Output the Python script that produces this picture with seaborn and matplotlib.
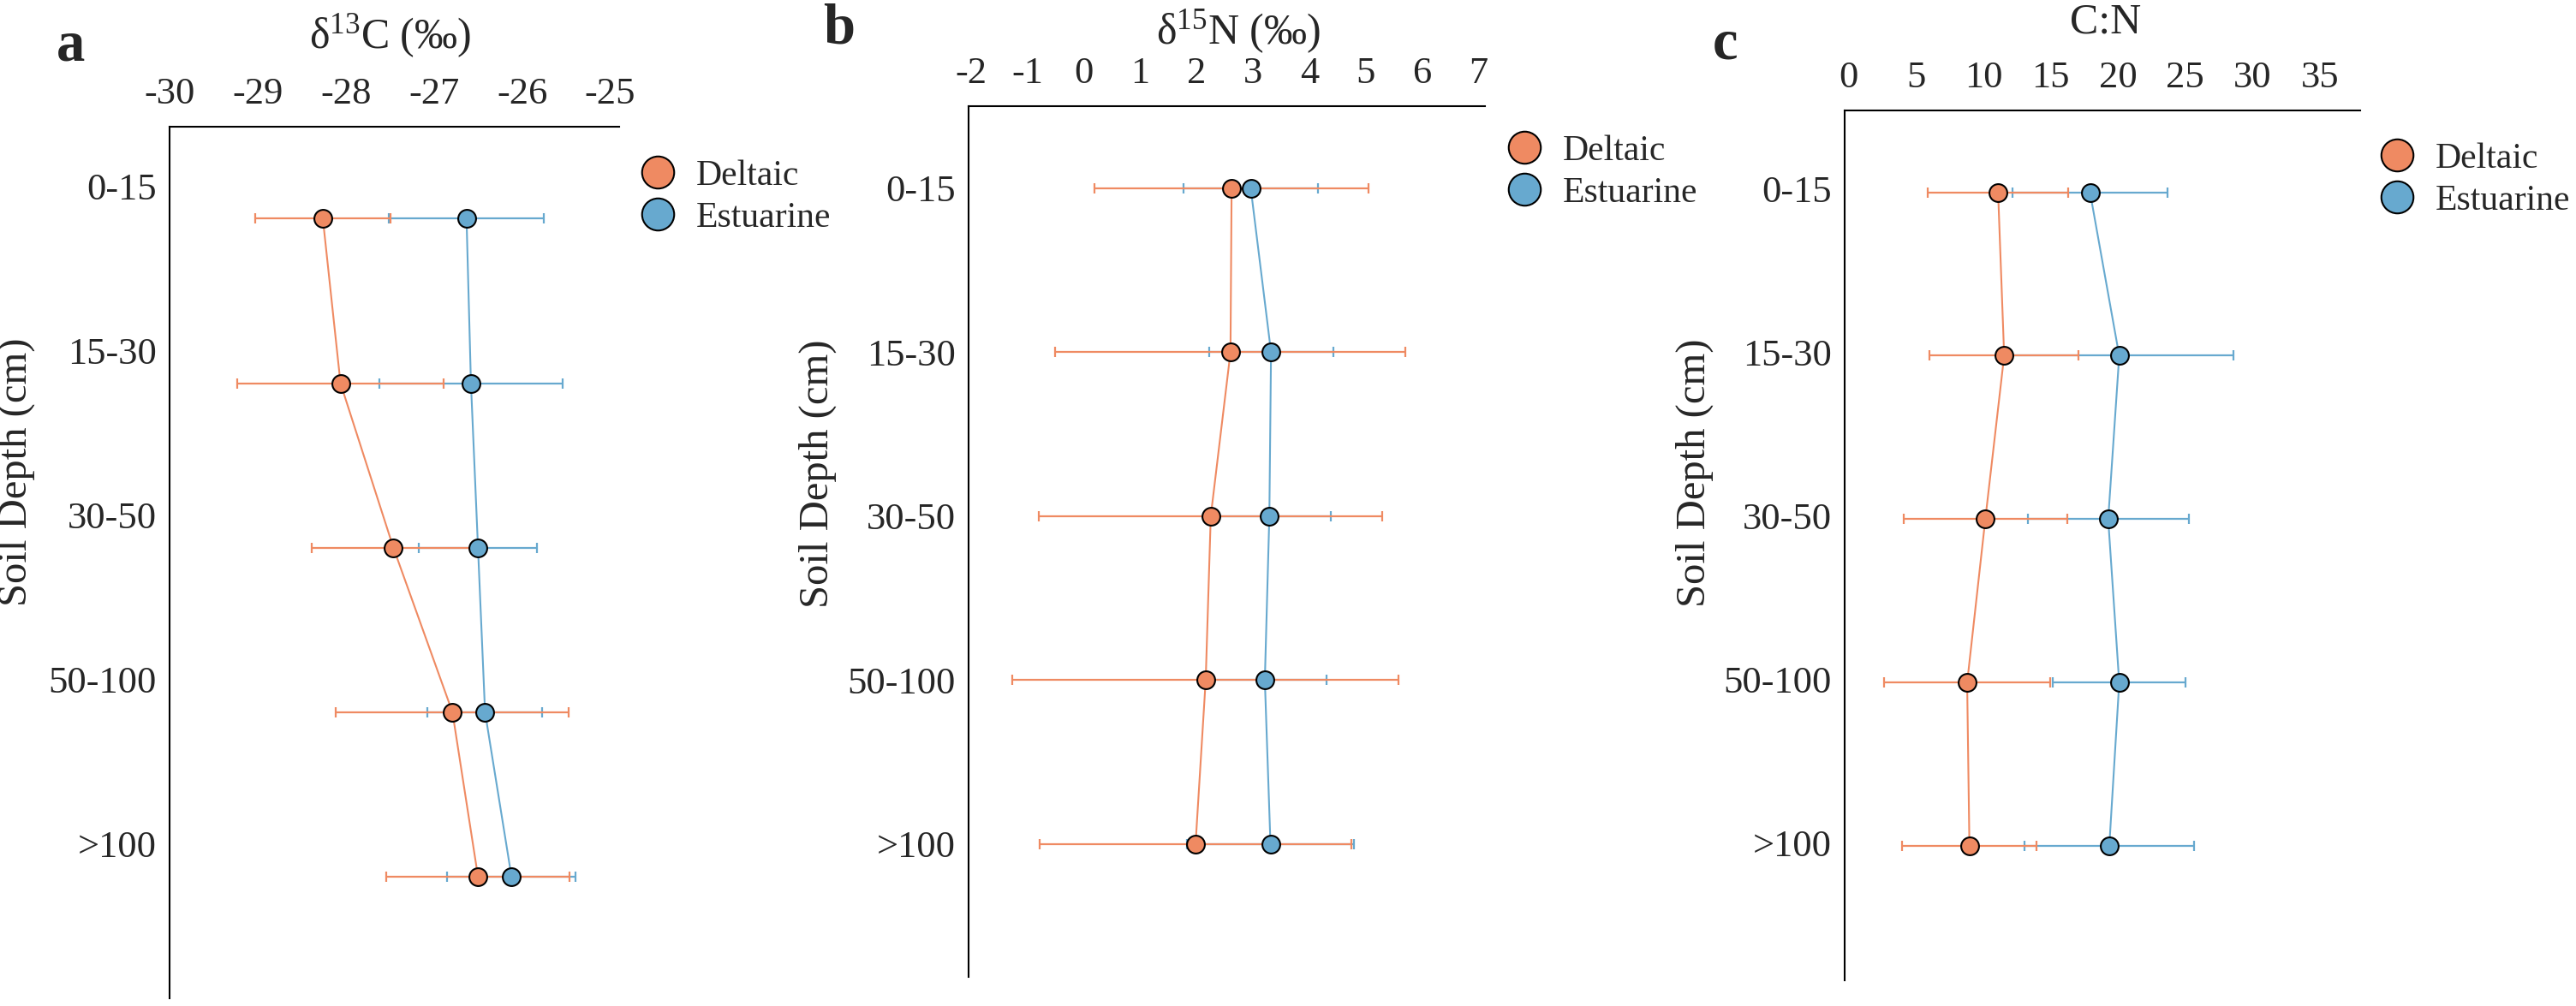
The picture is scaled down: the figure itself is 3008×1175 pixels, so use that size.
"""
Soil isotope and C:N profiles - Deltaic vs Estuarine sites
"""

import numpy as np
import pandas as pd
import seaborn as sns
import matplotlib.pyplot as plt
from matplotlib.lines import Line2D

sns.set_style('white')
plt.rcParams['font.family'] = ['Liberation Serif', 'DejaVu Serif']
plt.rcParams['mathtext.fontset'] = 'custom'
plt.rcParams['mathtext.rm'] = 'Liberation Serif'
plt.rcParams['mathtext.it'] = 'Liberation Serif:italic'

# Data (mean and error)

depths = ['0-15', '15-30', '30-50', '50-100', '>100']
sites = ['Deltaic', 'Estuarine']

d13c_deltaic = [-28.26, -28.06, -27.46, -26.79, -26.50]
d13c_deltaic_err = [0.77, 1.17, 0.93, 1.32, 1.04]
d13c_estuarine = [-26.63, -26.58, -26.50, -26.42, -26.12]
d13c_estuarine_err = [0.88, 1.04, 0.67, 0.65, 0.73]

d15n_deltaic = [2.62, 2.60, 2.25, 2.16, 1.98]
d15n_deltaic_err = [2.43, 3.11, 3.05, 3.43, 2.77]
d15n_estuarine = [2.96, 3.32, 3.29, 3.21, 3.31]
d15n_estuarine_err = [1.20, 1.10, 1.09, 1.10, 1.48]

cn_deltaic = [11.1, 11.55, 10.15, 8.8, 8.97]
cn_deltaic_err = [5.2, 5.55, 6.08, 6.2, 4.98]
cn_estuarine = [17.93, 20.1, 19.28, 20.1, 19.36]
cn_estuarine_err = [5.77, 8.46, 5.97, 4.94, 6.27]

colors = {'Deltaic': '#EF8A62', 'Estuarine': '#67A9CF'}

# Panel settings
panels = [
    dict(letter='a', title=r'δ$^{\mathrm{13}}$C (‰)',
         vals={'Deltaic': (d13c_deltaic, d13c_deltaic_err),
               'Estuarine': (d13c_estuarine, d13c_estuarine_err)},
         xlim=(-30, -24.9), xticks=np.arange(-30, -24, 1), yoff=0.2,
         ylim=(4.94, -0.36), rect=[0.0658, 0.0077, 0.1745, 0.8664],
         title_xy=(456, 42), letter_xy=(83, 54), leg_xy=(747, 230),
         ylab_xy=(-0.299, 0.604)),
    dict(letter='b', title=r'δ$^{\mathrm{15}}$N (‰)',
         vals={'Deltaic': (d15n_deltaic, d15n_deltaic_err),
               'Estuarine': (d15n_estuarine, d15n_estuarine_err)},
         xlim=(-2.05, 7.12), xticks=np.arange(-2, 8, 1), yoff=0.0,
         ylim=(4.81, -0.5), rect=[0.376, 0.0289, 0.2005, 0.8655],
         title_xy=(1446, 37), letter_xy=(980, 34), leg_xy=(1759, 201),
         ylab_xy=(-0.255, 0.578)),
    dict(letter='c', title='C:N',
         vals={'Deltaic': (cn_deltaic, cn_deltaic_err),
               'Estuarine': (cn_estuarine, cn_estuarine_err)},
         xlim=(-0.3, 38), xticks=np.arange(0, 40, 5), yoff=0.02,
         ylim=(4.84, -0.48), rect=[0.7161, 0.0255, 0.2001, 0.8647],
         title_xy=(2459, 26), letter_xy=(2014, 52), leg_xy=(2778, 210),
         ylab_xy=(-0.254, 0.583)),
]

W, H = 3008, 1175
fig = plt.figure(figsize=(W / 100, H / 100), dpi=100)

for p in panels:
    ax = fig.add_axes(p['rect'])

    # long-form table for this panel
    rows = []
    for s in sites:
        m, e = p['vals'][s]
        for i, d in enumerate(depths):
            rows.append({'site': s, 'depth': d, 'pos': i + p['yoff'],
                         'mean': m[i], 'err': e[i]})
    df = pd.DataFrame(rows)

    # error bars (estuarine first so deltaic sits on top)
    for s in ['Estuarine', 'Deltaic']:
        sub = df[df['site'] == s]
        ax.errorbar(sub['mean'], sub['pos'], xerr=sub['err'], fmt='none',
                    ecolor=colors[s], elinewidth=1.6, capsize=4.5,
                    capthick=1.6, zorder=1)

    sns.lineplot(data=df, x='mean', y='pos', hue='site', palette=colors,
                 hue_order=sites, sort=False, estimator=None, marker='o',
                 markersize=15, markeredgecolor='black', markeredgewidth=1.5,
                 linewidth=1.5, legend=False, ax=ax, zorder=3)

    ax.set_xlim(*p['xlim'])
    ax.set_ylim(*p['ylim'])
    ax.set_xticks(p['xticks'])
    ax.set_xticklabels([str(int(t)) for t in p['xticks']])
    ax.set_yticks(range(len(depths)))
    ax.set_yticklabels(depths)
    ax.xaxis.tick_top()
    ax.tick_params(axis='x', length=0, pad=13, labelsize=32)
    ax.tick_params(axis='y', length=0, pad=11, labelsize=32)
    ax.set_xlabel('')
    ax.set_ylabel('Soil Depth (cm)', fontsize=35)
    ax.yaxis.set_label_coords(*p['ylab_xy'])

    for side in ['right', 'bottom']:
        ax.spines[side].set_visible(False)
    for side in ['left', 'top']:
        ax.spines[side].set_color('black')
        ax.spines[side].set_linewidth(1.5)

    fig.text(p['title_xy'][0] / W, 1 - p['title_xy'][1] / H, p['title'],
             ha='center', va='center', fontsize=36)
    fig.text(p['letter_xy'][0] / W, 1 - p['letter_xy'][1] / H, p['letter'],
             ha='center', va='center', fontsize=48, fontweight='bold')

    handles = [Line2D([], [], linestyle='none', marker='o', markersize=27,
                      markerfacecolor=colors[s], markeredgecolor='black',
                      markeredgewidth=1.5, label=s) for s in sites]
    fig.legend(handles=handles, loc='center left',
               bbox_to_anchor=(p['leg_xy'][0] / W, 1 - p['leg_xy'][1] / H),
               bbox_transform=fig.transFigure, frameon=False, fontsize=30,
               handlelength=1.0, handletextpad=0.58, borderpad=0,
               borderaxespad=0, labelspacing=0.25)

fig.savefig('out.png', dpi=100)
